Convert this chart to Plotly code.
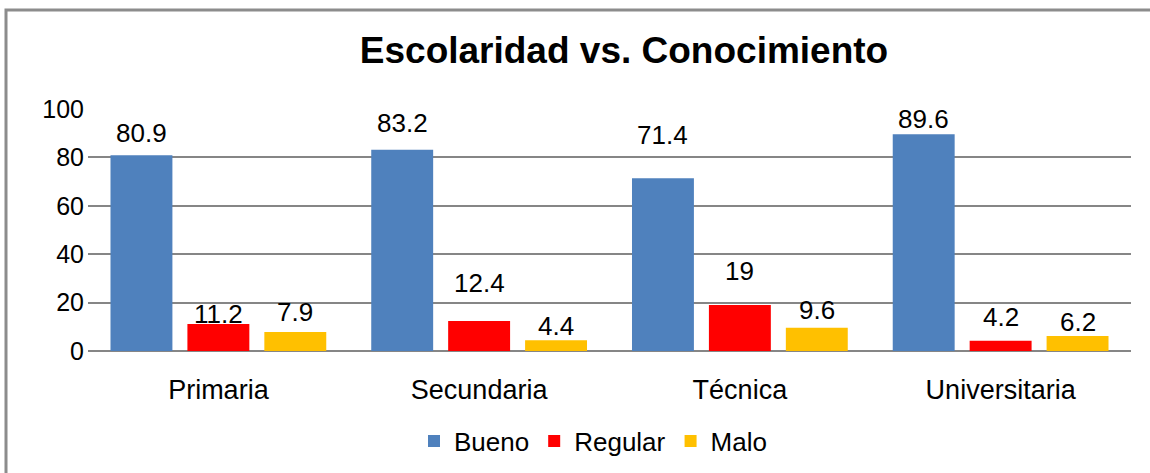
import plotly.graph_objects as go

# data
categorias = ["Primaria", "Secundaria", "Técnica", "Universitaria"]
series = ["Bueno", "Regular", "Malo"]
bueno = [80.9, 83.2, 71.4, 89.6]
regular = [11.2, 12.4, 19, 4.2]
malo = [7.9, 4.4, 9.6, 6.2]
y_ticks = [0, 20, 40, 60, 80, 100]

colores = ["#4F81BD", "#FF0000", "#FFC000"]
# label centre distance above bar top (px), as placed in the original
label_offsets = [
    [22, 27, 43, 15],
    [10, 38, 34, 24],
    [20, 14, 18, 14],
]

W, H = 1150, 473
ML, MR, MT, MB = 88, 19, 109, 122
PW, PH = W - ML - MR, H - MT - MB
FONT = "Liberation Sans, Arial, sans-serif"

fig = go.Figure()
valores = [bueno, regular, malo]
for name, vals, col in zip(series, valores, colores):
    fig.add_trace(go.Bar(x=categorias, y=vals, name=name, marker_color=col,
                         marker_line_width=0))

# data labels
slot = PW / len(categorias) * (1 - 0.115) / 3
for i, vals in enumerate(valores):
    for j, v in enumerate(vals):
        fig.add_annotation(x=categorias[j], y=v, text=f"{v:g}", showarrow=False,
                           xshift=(i - 1) * slot, yshift=label_offsets[i][j],
                           yanchor="middle", font=dict(size=26, color="#000000"))

fig.update_layout(
    width=W, height=H,
    margin=dict(l=ML, r=MR, t=MT, b=MB, autoexpand=False),
    paper_bgcolor="white", plot_bgcolor="white",
    font=dict(family=FONT, size=26, color="#000000"),
    title=dict(text="<b>Escolaridad vs. Conocimiento</b>", font=dict(size=37),
               x=(624 - ML) / PW, xref="paper", xanchor="center",
               y=1 - 50 / H, yanchor="middle"),
    barmode="group", bargap=0.115, bargroupgap=0.195,
    showlegend=True,
    legend=dict(orientation="h", x=(593 - ML) / PW, xanchor="center",
                y=(MT + PH - 441) / PH, yanchor="middle",
                font=dict(size=26), itemwidth=30, tracegroupgap=0),
    xaxis=dict(showgrid=False, showline=False, ticks="", ticklabelstandoff=20,
               tickfont=dict(size=27)),
    yaxis=dict(range=[0, 100], tickvals=y_ticks, showgrid=True,
               gridcolor="#868686", gridwidth=2, zeroline=True,
               zerolinecolor="#868686", zerolinewidth=2, showline=False,
               ticks="", ticklabelstandoff=3, tickfont=dict(size=25)),
    shapes=[dict(type="rect", xref="paper", yref="paper",
                 x0=(6 - ML) / PW, x1=(W + 20 - ML) / PW,
                 y0=(MT + PH - H - 20) / PH, y1=(MT + PH - 10) / PH,
                 line=dict(color="#8C8C8C", width=3), layer="below")],
)

# drop the default body margin so the figure sits at the page corner
fig.write_html("out.html", config={"displayModeBar": False},
               post_script="document.body.style.margin='0px';")
